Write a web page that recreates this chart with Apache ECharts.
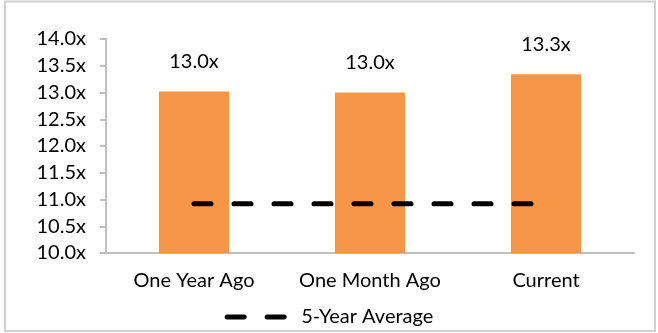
<!DOCTYPE html>
<html>
<head>
<meta charset="utf-8">
<script src="https://cdn.jsdelivr.net/npm/echarts@6/dist/echarts.min.js"></script>
<style>
  html, body { margin: 0; padding: 0; background: #fff; }
  #chart { width: 658px; height: 333px; }
</style>
</head>
<body>
<div id="chart"></div>
<script>
// data
var categories = ['One Year Ago', 'One Month Ago', 'Current']
var multiples = [13.02, 13.0, 13.34]
var fiveYearAvg = [10.92, 10.92, 10.92]

var font = 'Lato'
var chart = echarts.init(document.getElementById('chart'))

chart.setOption({
  animation: false,
  textStyle: { fontFamily: font, color: '#000' },
  graphic: [{
    type: 'rect',
    shape: { x: 5, y: 1.5, width: 650, height: 329.5 },
    style: { fill: 'none', stroke: '#d0d0d0', lineWidth: 2 },
    z: -1
  }],
  grid: { left: 106, right: 24, top: 39, bottom: 80 },
  legend: {
    data: ['5-Year Average'],
    bottom: 1,
    left: 'center',
    itemWidth: 57,
    itemHeight: 14,
    lineStyle: { width: 5 },
    itemStyle: { color: 'rgba(0,0,0,0)', borderWidth: 0 },
    textStyle: { fontFamily: font, fontSize: 20, color: '#000', padding: [0, 0, 0, 12] }
  },
  xAxis: {
    type: 'category',
    data: categories,
    axisLine: { lineStyle: { color: '#bfbfbf', width: 2 } },
    axisTick: { show: false },
    axisLabel: { fontFamily: font, fontSize: 20, color: '#000', margin: 18, interval: 0 }
  },
  yAxis: {
    type: 'value',
    min: 10,
    max: 14,
    interval: 0.5,
    splitLine: { show: false },
    axisLine: { show: true, lineStyle: { color: '#bfbfbf', width: 2 } },
    axisTick: { show: true, length: 6, lineStyle: { color: '#bfbfbf', width: 2 } },
    axisLabel: {
      fontFamily: font, fontSize: 20, color: '#000', margin: 20,
      formatter: function (v) { return v.toFixed(1) + 'x' }
    }
  },
  series: [{
    name: 'Multiple',
    type: 'bar',
    data: multiples,
    barWidth: 70,
    itemStyle: { color: '#f79646' },
    label: {
      show: true,
      position: 'top',
      distance: 20,
      fontFamily: font,
      fontSize: 20,
      color: '#000',
      formatter: function (p) { return p.value.toFixed(1) + 'x' }
    }
  }, {
    name: '5-Year Average',
    type: 'line',
    data: fiveYearAvg,
    symbol: 'none',
    itemStyle: { color: '#000' },
    lineStyle: { color: '#000', width: 5, type: [17, 23], cap: 'round' },
    z: 3
  }]
})
</script>
</body>
</html>
